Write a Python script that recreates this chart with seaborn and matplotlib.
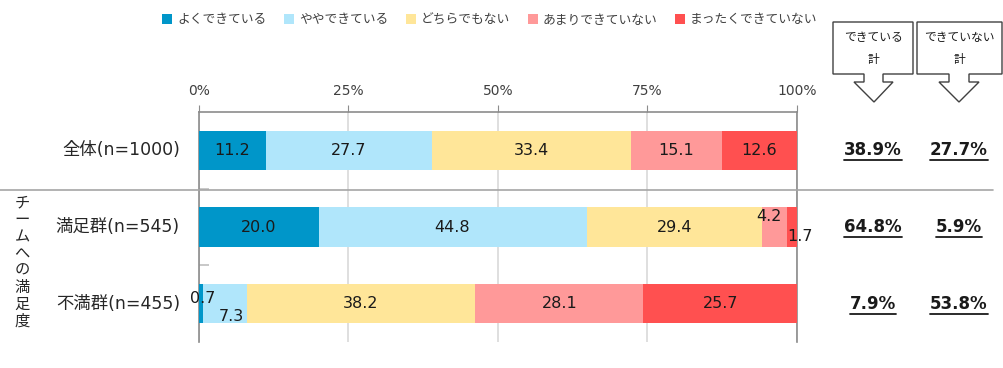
import numpy as np
import pandas as pd
import matplotlib
matplotlib.use("Agg")
import matplotlib.pyplot as plt
import seaborn as sns
from matplotlib.patches import Polygon, Patch
from matplotlib.lines import Line2D

# data
groups = ["全体(n=1000)", "満足群(n=545)", "不満群(n=455)"]
answers = ["よくできている", "ややできている", "どちらでもない", "あまりできていない", "まったくできていない"]
very_well = [11.2, 20.0, 0.7]
somewhat = [27.7, 44.8, 7.3]
neutral = [33.4, 29.4, 38.2]
not_much = [15.1, 4.2, 28.1]
not_at_all = [12.6, 1.7, 25.7]
total_can = ["38.9%", "64.8%", "7.9%"]
total_cannot = ["27.7%", "5.9%", "53.8%"]
colors = ["#0096C9", "#B0E6FB", "#FFE699", "#FF9999", "#FF5050"]

sns.set_style("white")
# latin/digits from DejaVu (wide like the original), kana/kanji from Noto CJK
plt.rcParams["font.family"] = ["DejaVu Sans", "Noto Sans CJK JP"]
jp = ["Noto Sans CJK JP", "DejaVu Sans"]

W, H = 1004, 368
fig = plt.figure(figsize=(W / 100, H / 100), dpi=100)


def px(x, y):
    return (x / W, 1 - y / H)


ax = fig.add_axes([199 / W, 1 - 342 / H, 598 / W, 230 / H])

df = pd.DataFrame({"group": groups, answers[0]: very_well, answers[1]: somewhat,
                   answers[2]: neutral, answers[3]: not_much, answers[4]: not_at_all})
cum = df[answers].cumsum(axis=1)

# stacked bars: draw cumulative totals from the back to the front
for i in range(len(answers) - 1, -1, -1):
    sns.barplot(x=cum[answers[i]], y=df["group"], orient="h", color=colors[i],
                width=0.51, ax=ax, saturation=1, zorder=3, linewidth=0, edgecolor="none")

ax.set_xlim(0, 100)
ax.set_ylim(2.5, -0.5)
ax.set_xlabel("")
ax.set_ylabel("")
ax.set_yticks([])
ax.set_yticks([0.5, 1.5], minor=True)
ax.tick_params(axis="y", which="minor", direction="in", length=7, color="#BFBFBF", width=1.2, left=True)
ax.xaxis.tick_top()
ax.set_xticks([0, 25, 50, 75, 100])
ax.set_xticklabels(["0%", "25%", "50%", "75%", "100%"], fontsize=10, color="#404040")
ax.tick_params(axis="x", direction="out", length=5, color="#8C8C8C", pad=5)
ax.grid(axis="x", color="#D9D9D9", lw=1.2, zorder=0)
for s in ["top", "left", "right"]:
    ax.spines[s].set_color("#8C8C8C")
    ax.spines[s].set_linewidth(1.2)
ax.spines["bottom"].set_visible(False)

# segment labels
offsets = {(1, 3): (-1.0, -0.14), (1, 4): (1.2, 0.13),
           (2, 0): (0.3, -0.07), (2, 1): (1.0, 0.17)}
for r in range(len(groups)):
    left = 0
    for i, a in enumerate(answers):
        v = df.loc[r, a]
        dx, dy = offsets.get((r, i), (0, 0))
        ax.text(left + v / 2 + dx, r + dy, f"{v:.1f}", ha="center", va="center",
                fontsize=11.5, color="#1A1A1A", zorder=5)
        left += v

# category labels
for r, g in enumerate(groups):
    y = ax.transData.transform((0, r))[1]
    fig.text(180 / W, y / H, g, ha="right", va="center", fontsize=12.5, color="#262626")

fig.text(22 / W, 1 - 262 / H, "\n".join("チームへの満足度"), ha="center", va="center",
         fontsize=11, color="#262626", linespacing=1.0, family=jp)

# separator
fig.add_artist(Line2D([0, 993 / W], [1 - 190 / H] * 2, color="#A6A6A6", lw=1.2))

# callout boxes
boxes = [(833, 913, 864, 883, 854, 893, 874, "できている"),
         (917, 1002, 949, 969, 939, 979, 959, "できていない")]
for l, r, sl, sr, hl, hr, tip, lab in boxes:
    pts = [(l, 22), (r, 22), (r, 74), (sr, 74), (sr, 82), (hr, 82), (tip, 102),
           (hl, 82), (sl, 82), (sl, 74), (l, 74)]
    fig.add_artist(Polygon([px(*p) for p in pts], closed=True, fc="white",
                           ec="#404040", lw=1.0, transform=fig.transFigure))
    fig.text(*px((l + r) / 2, 38), lab, ha="center", va="center", fontsize=8.5,
             color="#1A1A1A", family=jp)
    fig.text(*px((l + r) / 2, 60), "計", ha="center", va="center", fontsize=8.5,
             color="#1A1A1A", family=jp)

# totals, bold and underlined
renderer = fig.canvas.get_renderer()
for col, vals in [(873, total_can), (959, total_cannot)]:
    for r, v in enumerate(vals):
        y = ax.transData.transform((0, r))[1]
        t = fig.text(col / W, y / H, v, ha="center", va="center", fontsize=12,
                     fontweight="bold", color="#1A1A1A")
        bb = t.get_window_extent(renderer)
        fig.add_artist(Line2D([bb.x0 / W, bb.x1 / W], [(bb.y0 - 1) / H] * 2,
                              color="#1A1A1A", lw=1.3))

# legend
handles = [Patch(facecolor=c, edgecolor="none") for c in colors]
fig.legend(handles, answers, loc="center", bbox_to_anchor=(490 / W, 1 - 20 / H), ncol=5,
           frameon=False, handlelength=0.75, handleheight=0.75,
           handletextpad=0.4, columnspacing=1.4, labelcolor="#404040",
           prop={"family": jp, "size": 9.2})

fig.savefig("out.png", dpi=100)
